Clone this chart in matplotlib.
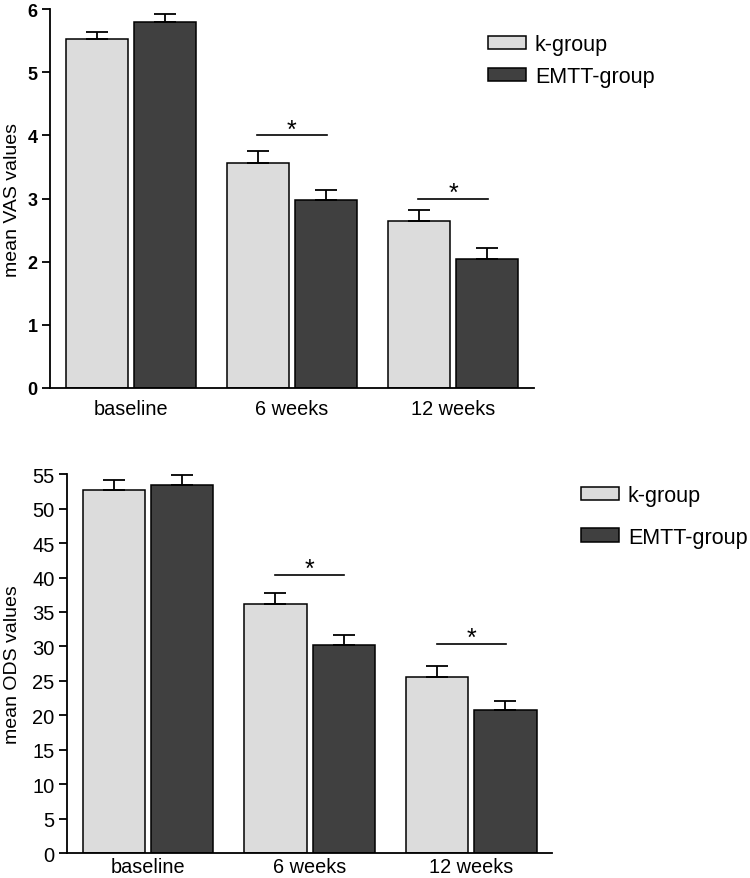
import numpy as np
import matplotlib
matplotlib.use("Agg")
import matplotlib.pyplot as plt

plt.rcParams['font.family'] = ['Liberation Sans', 'DejaVu Sans']

# data
groups = ['baseline', '6 weeks', '12 weeks']
labels = ['k-group', 'EMTT-group']

vas_k = [5.52, 3.57, 2.64]
vas_k_err = [0.11, 0.18, 0.18]
vas_emtt = [5.79, 2.98, 2.05]
vas_emtt_err = [0.13, 0.15, 0.16]
vas_sig = [None, 4.0, 3.0]

ods_k = [52.7, 36.2, 25.5]
ods_k_err = [1.4, 1.5, 1.6]
ods_emtt = [53.4, 30.2, 20.8]
ods_emtt_err = [1.5, 1.5, 1.3]
ods_sig = [None, 40.4, 30.4]

light = '#dcdcdc'
dark = '#404040'


def draw_panel(ax, k, k_err, em, em_err, sig, ymax, yticks, ylabel, bold_ticks, xpad):
    x = np.arange(len(groups))
    w = 0.385
    off = 0.211
    ekw = dict(elinewidth=1.3, capthick=1.3, capsize=8, ecolor='black')
    ax.bar(x - off, k, w, color=light, edgecolor='black', linewidth=1.1,
           yerr=[np.zeros(len(k)), k_err], error_kw=ekw, label=labels[0])
    ax.bar(x + off, em, w, color=dark, edgecolor='black', linewidth=1.1,
           yerr=[np.zeros(len(em)), em_err], error_kw=ekw, label=labels[1])

    # significance markers
    for i, s in enumerate(sig):
        if s is None:
            continue
        ax.plot([i - 0.215, i + 0.215], [s, s], color='black', lw=1.2)
        ax.annotate('*', (i, s), xytext=(0, -1), textcoords='offset points',
                    ha='center', va='baseline', fontsize=18)

    ax.set_xlim(-0.5, 2.5)
    ax.set_ylim(0, ymax)
    ax.set_yticks(yticks)
    ax.set_xticks(x)
    ax.set_xticklabels(groups, fontsize=14.3)
    ax.tick_params(axis='x', length=0, pad=xpad)
    ax.tick_params(axis='y', length=6, width=1.3, pad=3)
    for lab in ax.get_yticklabels():
        lab.set_fontsize(13 if bold_ticks else 14.5)
        if bold_ticks:
            lab.set_fontweight('bold')
    ax.set_ylabel(ylabel, fontsize=14)
    for sp in ['top', 'right']:
        ax.spines[sp].set_visible(False)
    for sp in ['left', 'bottom']:
        ax.spines[sp].set_linewidth(1.3)


fig = plt.figure(figsize=(7.5, 8.79), dpi=100)

ax1 = fig.add_axes([0.0667, 0.5575, 0.645, 0.431])
draw_panel(ax1, vas_k, vas_k_err, vas_emtt, vas_emtt_err, vas_sig,
           6, range(0, 7), 'mean VAS values', True, 8)
ax1.yaxis.set_label_coords(-0.06, 0.5)
ax1.legend(loc='upper left', bbox_to_anchor=(0.650, 0.960),
           bbox_transform=fig.transFigure, frameon=False, fontsize=15.5,
           handlelength=1.8, handleheight=0.6, handletextpad=0.4,
           labelspacing=0.5, borderpad=0, borderaxespad=0)

ax2 = fig.add_axes([0.0893, 0.0284, 0.647, 0.431])
draw_panel(ax2, ods_k, ods_k_err, ods_emtt, ods_emtt_err, ods_sig,
           55, range(0, 56, 5), 'mean ODS values', False, 3)
ax2.yaxis.set_label_coords(-0.095, 0.5)
ax2.legend(loc='upper left', bbox_to_anchor=(0.774, 0.447),
           bbox_transform=fig.transFigure, frameon=False, fontsize=15.5,
           handlelength=1.8, handleheight=0.6, handletextpad=0.4,
           labelspacing=0.96, borderpad=0, borderaxespad=0)

fig.savefig('out.png', dpi=100)
